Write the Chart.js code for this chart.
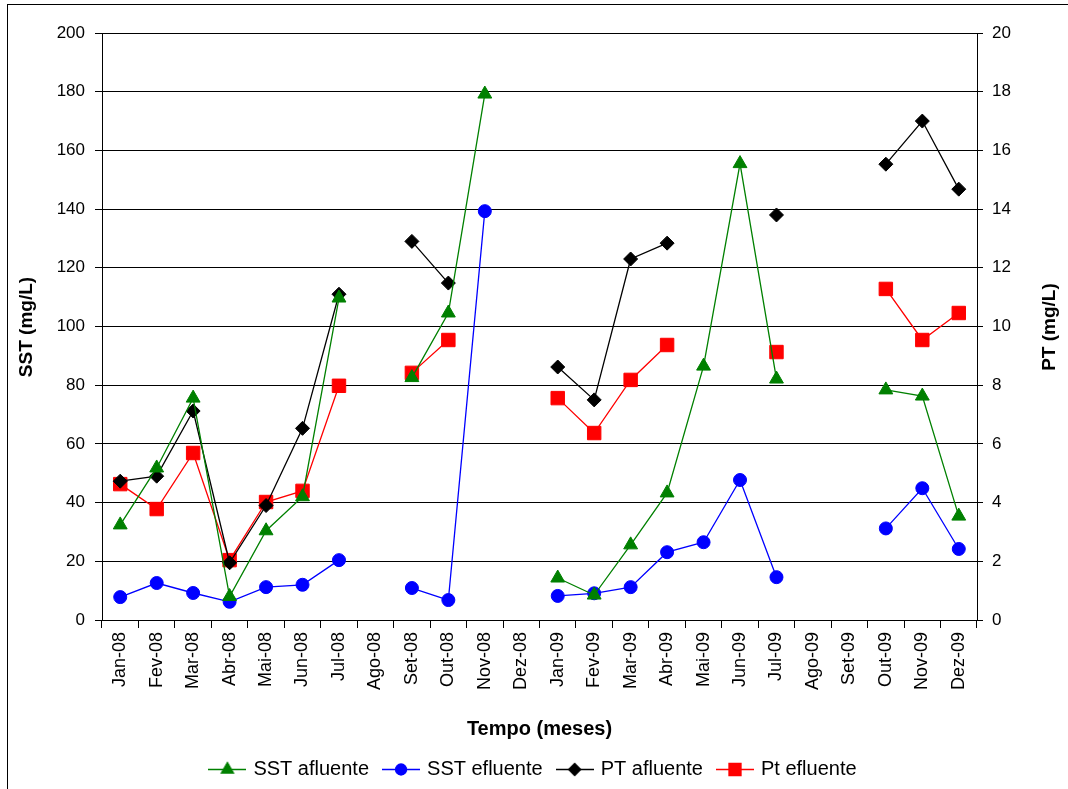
<!DOCTYPE html>
<html>
<head>
<meta charset="utf-8">
<script src="https://cdn.jsdelivr.net/npm/chart.js@4/dist/chart.umd.min.js"></script>
<style>
  html, body { margin: 0; padding: 0; background: #fff; }
  #wrap { width: 1068px; height: 789px; position: relative; }
</style>
</head>
<body>
<div id="wrap"><canvas id="chart"></canvas></div>
<script>
// Dados
const meses = ['Jan-08', 'Fev-08', 'Mar-08', 'Abr-08', 'Mai-08', 'Jun-08', 'Jul-08', 'Ago-08',
    'Set-08', 'Out-08', 'Nov-08', 'Dez-08', 'Jan-09', 'Fev-09', 'Mar-09', 'Abr-09',
    'Mai-09', 'Jun-09', 'Jul-09', 'Ago-09', 'Set-09', 'Out-09', 'Nov-09', 'Dez-09'];

const sstAfluente = [32.4, 51.8, 75.6, 8, 30.4, 42, 109.7, null, 82.6, 104.6, 179.2, null,
    14.3, 8.5, 25.6, 43.3, 86.5, 155.5, 82.1, null, null, 78.4, 76.3, 35.4];
const sstEfluente = [7.8, 12.6, 9.2, 6.2, 11.2, 12, 20.4, null, 10.9, 6.8, 139.3, null,
    8.2, 9.1, 11.2, 23.1, 26.5, 47.7, 14.6, null, null, 31.2, 44.9, 24.2];
const ptAfluente = [4.73, 4.9, 7.12, 1.95, 3.9, 6.53, 11.1, null, 12.9, 11.48, null, null,
    8.62, 7.5, 12.3, 12.84, null, null, 13.8, null, null, 15.53, 17.0, 14.68];
const ptEfluente = [4.63, 3.78, 5.69, 2.04, 4.02, 4.4, 7.98, null, 8.42, 9.54, null, null,
    7.56, 6.37, 8.18, 9.37, null, null, 9.13, null, null, 11.28, 9.54, 10.46];

const FONT = "'Liberation Sans', Arial, sans-serif";

const series = [
    { label: 'SST afluente', data: sstAfluente, color: '#008000', style: 'triangle', radius: 8, axis: 'y' },
    { label: 'SST efluente', data: sstEfluente, color: '#0000FF', style: 'circle', radius: 6.5, axis: 'y' },
    { label: 'PT afluente', data: ptAfluente, color: '#000000', style: 'rectRot', radius: 7, axis: 'y2' },
    { label: 'Pt efluente', data: ptEfluente, color: '#FF0000', style: 'rect', radius: 9.5, axis: 'y2' }
];

// simbolo da legenda: linha com marcador no meio
function legendSymbol(s) {
    const c = document.createElement('canvas');
    c.width = 38;
    c.height = 20;
    const ctx = c.getContext('2d');
    ctx.strokeStyle = s.color;
    ctx.lineWidth = 1.3;
    ctx.beginPath();
    ctx.moveTo(0, 10.5);
    ctx.lineTo(38, 10.5);
    ctx.stroke();
    ctx.fillStyle = s.color;
    Chart.helpers.drawPoint(ctx, { pointStyle: s.style, radius: s.radius - 1, rotation: 0, borderWidth: 1 }, 19, 10.5);
    ctx.fill();
    return c;
}

const extras = {
    id: 'extras',
    afterDraw(chart) {
        const ctx = chart.ctx;
        ctx.save();
        ctx.fillStyle = '#000';
        ctx.font = 'bold 19px ' + FONT;
        ctx.textAlign = 'center';
        ctx.textBaseline = 'middle';
        ctx.translate(27, 327);
        ctx.rotate(-Math.PI / 2);
        ctx.fillText('SST (mg/L)', 0, 0);
        ctx.restore();

        ctx.save();
        ctx.fillStyle = '#000';
        ctx.font = 'bold 19px ' + FONT;
        ctx.textAlign = 'center';
        ctx.textBaseline = 'middle';
        ctx.translate(1050, 327);
        ctx.rotate(-Math.PI / 2);
        ctx.fillText('PT (mg/L)', 0, 0);
        ctx.restore();

        // moldura externa
        ctx.save();
        ctx.strokeStyle = '#000';
        ctx.lineWidth = 1;
        ctx.strokeRect(7.5, 4.5, 1100, 800);
        ctx.restore();
    }
};

new Chart(document.getElementById('chart'), {
    type: 'line',
    data: {
        labels: meses,
        datasets: series.map(s => ({
            label: s.label,
            data: s.data,
            yAxisID: s.axis,
            borderColor: s.color,
            backgroundColor: s.color,
            borderWidth: 1.3,
            pointStyle: s.style,
            pointRadius: s.radius,
            pointHoverRadius: s.radius,
            pointBorderWidth: 1,
            tension: 0,
            spanGaps: false,
            fill: false
        }))
    },
    options: {
        responsive: true,
        maintainAspectRatio: false,
        animation: false,
        layout: { padding: { top: 33, left: 0, right: 0, bottom: 0 } },
        plugins: {
            legend: {
                position: 'bottom',
                labels: {
                    usePointStyle: true,
                    pointStyleWidth: 32,
                    padding: 16,
                    color: '#000',
                    font: { family: FONT, size: 20 },
                    generateLabels: function(chart) {
                        return series.map((s, i) => ({
                            text: s.label,
                            pointStyle: legendSymbol(s),
                            fillStyle: s.color,
                            strokeStyle: s.color,
                            lineWidth: 0,
                            hidden: false,
                            datasetIndex: i
                        }));
                    }
                }
            },
            tooltip: { enabled: false }
        },
        scales: {
            x: {
                type: 'category',
                offset: true,
                grid: {
                    offset: true,
                    drawOnChartArea: false,
                    drawTicks: true,
                    tickLength: 8,
                    color: '#000'
                },
                border: { color: '#000', width: 1 },
                ticks: {
                    minRotation: 90,
                    maxRotation: 90,
                    autoSkip: false,
                    padding: 4,
                    color: '#000',
                    font: { family: FONT, size: 18 }
                },
                title: {
                    display: true,
                    text: 'Tempo (meses)',
                    color: '#000',
                    font: { family: FONT, size: 20, weight: 'bold' },
                    padding: { top: 0, bottom: 2 }
                },
                afterFit: function(scale) { scale.height = 123; }
            },
            y: {
                position: 'left',
                min: 0,
                max: 200,
                ticks: {
                    stepSize: 20,
                    padding: 10,
                    color: '#000',
                    font: { family: FONT, size: 17 }
                },
                grid: { color: '#000', lineWidth: 1, tickLength: 7 },
                border: { color: '#000', width: 1 },
                afterFit: function(scale) { scale.width = 102; }
            },
            y2: {
                position: 'right',
                min: 0,
                max: 20,
                ticks: {
                    stepSize: 2,
                    padding: 9,
                    color: '#000',
                    font: { family: FONT, size: 17 }
                },
                grid: { drawOnChartArea: false, color: '#000', tickLength: 6 },
                border: { color: '#000', width: 1 },
                afterFit: function(scale) { scale.width = 91; }
            }
        }
    },
    plugins: [extras]
});
</script>
</body>
</html>
